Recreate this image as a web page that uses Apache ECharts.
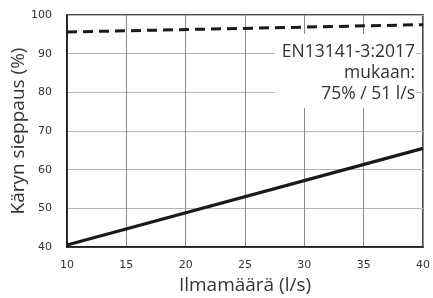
<!DOCTYPE html>
<html><head><meta charset="utf-8">
<script src="https://cdn.jsdelivr.net/npm/echarts@6/dist/echarts.min.js"></script>
<style>html,body{margin:0;padding:0;background:#fff}#c{width:433px;height:298px}</style>
</head><body><div id="c"></div>
<script>
var xValues = [10, 40];
var captureSolid = [40.5, 65.5];
var captureDashed = [95.6, 97.5];
var xName = 'Ilmamäärä (l/s)';
var yName = 'Käryn sieppaus (%)';
var noteLines = ['EN13141-3:2017', 'mukaan:', '75% / 51 l/s'];

var chart = echarts.init(document.getElementById('c'), null, {renderer: 'canvas'});
function pairs(ys){ return xValues.map(function(x,i){ return [x, ys[i]]; }); }
var graphics = [{
  type: 'rect', z: 5, silent: true,
  shape: {x: 275, y: 34, width: 141, height: 74},
  style: {fill: '#fff'}
}];
noteLines.forEach(function(t, i){
  graphics.push({
    type: 'text', z: 10, x: 415, y: 52 + i * 21,
    style: {text: t, align: 'right', verticalAlign: 'middle',
            font: '17.5px "Open Sans"', fill: '#333'}
  });
});
chart.setOption({
  animation: false,
  backgroundColor: '#fff',
  grid: {left: 67, right: 10, top: 15, bottom: 51, show: true, borderColor: '#111', borderWidth: 1.5, outerBoundsMode: 'none', containLabel: false},
  xAxis: {
    type: 'value', min: 10, max: 40, interval: 5,
    name: xName, nameLocation: 'middle', nameGap: 29, nameMoveOverlap: false,
    nameTextStyle: {fontFamily: 'Open Sans', fontSize: 19, color: '#333'},
    axisLine: {show: true, lineStyle: {color: '#111', width: 1.5}},
    axisTick: {show: false},
    axisLabel: {fontFamily: 'DejaVu Sans', fontSize: 11, color: '#333', margin: 13},
    splitLine: {show: true, lineStyle: {color: '#8a8a8a', width: 1}}
  },
  yAxis: {
    type: 'value', min: 40, max: 100, interval: 10,
    name: yName, nameLocation: 'middle', nameGap: 39, nameMoveOverlap: false,
    nameTextStyle: {fontFamily: 'Open Sans', fontSize: 19, color: '#333'},
    axisLine: {show: true, lineStyle: {color: '#111', width: 1.5}},
    axisTick: {show: false},
    axisLabel: {fontFamily: 'DejaVu Sans', fontSize: 11, color: '#333', margin: 15},
    splitLine: {show: true, lineStyle: {color: '#b5b5b5', width: 1}}
  },
  series: [
    {type: 'line', data: pairs(captureSolid), symbol: 'none', lineStyle: {color: '#1a1a1a', width: 3.2}, z: 3},
    {type: 'line', data: pairs(captureDashed), symbol: 'none', lineStyle: {color: '#1a1a1a', width: 3, type: [10, 6]}, z: 3}
  ],
  graphic: graphics
});
</script></body></html>
